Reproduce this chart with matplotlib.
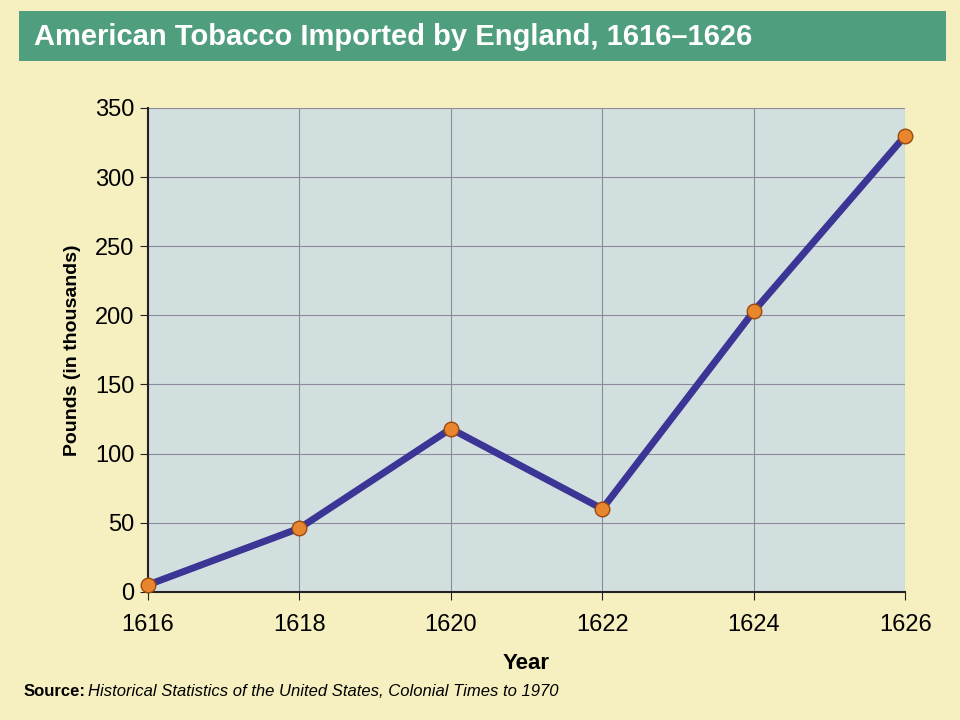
import matplotlib
matplotlib.use('Agg')
import matplotlib.pyplot as plt
from matplotlib.patches import Rectangle

years = [1616, 1618, 1620, 1622, 1624, 1626]
pounds = [5, 46, 118, 60, 203, 330]
y_ticks = [0, 50, 100, 150, 200, 250, 300, 350]

fig = plt.figure(figsize=(9.6, 7.2), dpi=100)
fig.patch.set_facecolor('#f6efc0')

# title banner
fig.patches.append(Rectangle((0.02, 0.915), 0.965, 0.07, transform=fig.transFigure,
                             facecolor='#4f9e7e', edgecolor='none'))
fig.text(0.035, 0.948, 'American Tobacco Imported by England, 1616\u20131626',
         color='white', fontsize=21, fontweight='bold', va='center',
         family='Liberation Sans')

ax = fig.add_axes([0.154, 0.178, 0.789, 0.672])
ax.set_facecolor('#d2dfdf')
ax.plot(years, pounds, color='#3b3596', lw=5, zorder=3, solid_capstyle='round', clip_on=False)
ax.scatter(years, pounds, s=110, color='#e8862e', edgecolor='#9a4a10', lw=1, zorder=4, clip_on=False)

ax.set_xlim(1616, 1626)
ax.set_ylim(0, 350)
ax.set_xticks(years)
ax.set_yticks(y_ticks)
ax.grid(True, color='#8a8a9a', lw=0.8)
ax.set_axisbelow(True)
for s in ['top', 'right']:
    ax.spines[s].set_visible(False)
for s in ['left', 'bottom']:
    ax.spines[s].set_color('#222222')
    ax.spines[s].set_linewidth(1.5)
ax.tick_params(labelsize=17, length=6, color='#222222')
ax.tick_params(axis='x', pad=10)
for lab in ax.get_xticklabels() + ax.get_yticklabels():
    lab.set_family('Liberation Sans')
    lab.set_stretch('condensed')
ax.set_xlabel('Year', fontsize=16, fontweight='bold', family='Liberation Sans', labelpad=12)
ax.set_ylabel('Pounds (in thousands)', fontsize=14, fontweight='bold', family='Liberation Sans',
              labelpad=10)

fig.text(0.025, 0.04, 'Source:', fontsize=12, fontweight='bold', family='Liberation Sans', va='center')
fig.text(0.092, 0.04, 'Historical Statistics of the United States, Colonial Times to 1970',
         fontsize=12, style='italic', family='Liberation Sans', va='center')

fig.savefig('out.png', dpi=100, facecolor=fig.get_facecolor())
